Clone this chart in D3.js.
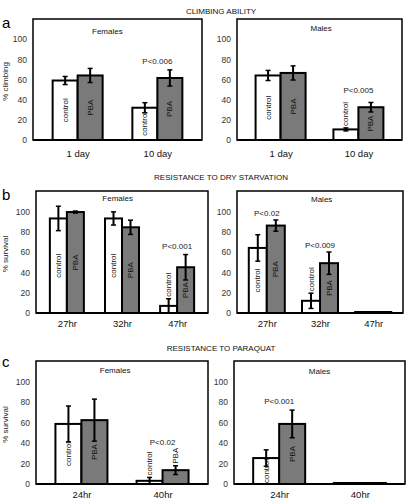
<!DOCTYPE html>
<html><head><meta charset="utf-8">
<script src="https://cdn.jsdelivr.net/npm/d3@7"></script>
<style>
html,body{margin:0;padding:0;background:#fff;}
svg{display:block;font-family:"Liberation Sans",Arial,Helvetica,sans-serif;}
</style></head>
<body><svg id="chart" width="410" height="501"></svg>
<script>
// ---------- DATA ----------
const sectionTitles = ["CLIMBING ABILITY", "RESISTANCE TO DRY STARVATION", "RESISTANCE TO PARAQUAT"];
const yTitles = ["% climbing", "% survival", "% survival"];
const panelLetters = ["a", "b", "c"];
const yTicks = [0, 20, 40, 60, 80, 100];
const seriesNames = ["control", "PBA"];

const climbCategories = ["1 day", "10 day"];
const climbFemaleControl = [59, 32];
const climbFemaleControlErr = [4, 5];
const climbFemalePBA = [64, 61.5];
const climbFemalePBAErr = [7, 8];
const climbMaleControl = [64, 10.5];
const climbMaleControlErr = [5, 1.5];
const climbMalePBA = [66.5, 32.5];
const climbMalePBAErr = [7, 4.7];

const starvCategories = ["27hr", "32hr", "47hr"];
const starvFemaleControl = [93, 93, 7];
const starvFemaleControlErr = [12, 6.5, 7];
const starvFemalePBA = [99.3, 84.3, 45];
const starvFemalePBAErr = [1, 7, 12.5];
const starvMaleControl = [64, 12, 0];
const starvMaleControlErr = [13, 7.5, 0];
const starvMalePBA = [86, 49, 0];
const starvMalePBAErr = [5.5, 11, 0];

const paraCategories = ["24hr", "40hr"];
const paraFemaleControl = [58.6, 3.1];
const paraFemaleControlErr = [17.5, 3.3];
const paraFemalePBA = [62.3, 13.5];
const paraFemalePBAErr = [20.5, 4.3];
const paraMaleControl = [25.3, 0];
const paraMaleControlErr = [8, 0];
const paraMalePBA = [58.6, 0];
const paraMalePBAErr = [13.5, 0];

// p-value annotations: [category, text, level (data units)]
const climbFemaleP = [["10 day", "P<0.006", 78]];
const climbMaleP = [["10 day", "P<0.005", 49.5]];
const starvFemaleP = [["47hr", "P<0.001", 65.5]];
const starvMaleP = [["27hr", "P<0.02", 98], ["32hr", "P<0.009", 67]];
const paraFemaleP = [["40hr", "P<0.02", 40.5]];
const paraMaleP = [["24hr", "P<0.001", 81]];

// ---------- LAYOUT ----------
const panels = [
  {row:0, sex:"Females", cats:climbCategories, c:climbFemaleControl, ce:climbFemaleControlErr, p:climbFemalePBA, pe:climbFemalePBAErr, ann:climbFemaleP,
   x0:33, x1:202, y0:19, y1:140, bw:25, sexFx:0.44, sexDy:14.5, left:true},
  {row:0, sex:"Males", cats:climbCategories, c:climbMaleControl, ce:climbMaleControlErr, p:climbMalePBA, pe:climbMalePBAErr, ann:climbMaleP,
   x0:237, x1:402, y0:19, y1:140, bw:25, sexFx:0.51, sexDy:12, left:false},
  {row:1, sex:"Females", cats:starvCategories, c:starvFemaleControl, ce:starvFemaleControlErr, p:starvFemalePBA, pe:starvFemalePBAErr, ann:starvFemaleP,
   x0:36, x1:208, y0:191, y1:313, bw:17, sexFx:0.475, sexDy:9.5, left:true},
  {row:1, sex:"Males", cats:starvCategories, c:starvMaleControl, ce:starvMaleControlErr, p:starvMalePBA, pe:starvMalePBAErr, ann:starvMaleP,
   x0:237, x1:403, y0:191, y1:313, bw:18, sexFx:0.51, sexDy:11, left:false},
  {row:2, sex:"Females", cats:paraCategories, c:paraFemaleControl, ce:paraFemaleControlErr, p:paraFemalePBA, pe:paraFemalePBAErr, ann:paraFemaleP,
   x0:36, x1:208, y0:361, y1:484, bw:26, sexFx:0.46, sexDy:11.5, left:true},
  {row:2, sex:"Males", cats:paraCategories, c:paraMaleControl, ce:paraMaleControlErr, p:paraMalePBA, pe:paraMalePBAErr, ann:paraMaleP,
   x0:234, x1:405, y0:361, y1:484, bw:26, sexFx:0.5, sexDy:12.5, left:false}
];
const titleY = [14, 180, 350.5];
const letterY = [28, 200, 367];
const xLabelPad = [10, 7, 7];

const svg = d3.select("#chart");
const FILL_PBA = "#7a7a7a";

// section titles and letters
sectionTitles.forEach((t, i) => {
  svg.append("text").attr("x", 221).attr("y", titleY[i]).attr("text-anchor", "middle")
    .attr("font-size", 8).attr("fill", "#111").text(t);
  svg.append("text").attr("x", 2).attr("y", letterY[i]).attr("font-size", 15).attr("fill", "#000").text(panelLetters[i]);
});

panels.forEach(P => {
  const g = svg.append("g");
  const y = d3.scaleLinear().domain([0, 120]).range([P.y1, P.y0]);
  const x = d3.scalePoint().domain(P.cats).range([P.x0, P.x1]).padding(0.56);

  // y axis labels
  const ya = g.append("g").attr("transform", `translate(${P.x0},0)`)
    .call(d3.axisLeft(y).tickValues(yTicks).tickSize(0).tickPadding(6));
  ya.select(".domain").remove();
  ya.selectAll("text").attr("font-size", 8.5).attr("fill", "#333").attr("font-family", null);

  // x axis labels
  const xa = g.append("g").attr("transform", `translate(0,${P.y1})`)
    .call(d3.axisBottom(x).tickSize(0).tickPadding(xLabelPad[P.row]));
  xa.select(".domain").remove();
  xa.selectAll("text").attr("font-size", 9.5).attr("fill", "#111").attr("font-family", null);

  // y title
  if (P.left) {
    g.append("text").attr("transform", `translate(8,${(P.y0 + P.y1) / 2 + 2}) rotate(-90)`)
      .attr("text-anchor", "middle").attr("font-size", 8).attr("fill", "#222").text(yTitles[P.row]);
  }

  // bars
  const rows = [];
  P.cats.forEach((cat, i) => {
    rows.push({cat, s: 0, v: P.c[i], e: P.ce[i]});
    rows.push({cat, s: 1, v: P.p[i], e: P.pe[i]});
  });
  const bx = d => x(d.cat) + (d.s === 0 ? -P.bw : 0);
  g.selectAll("rect.bar").data(rows).join("rect").attr("class", "bar")
    .attr("x", bx).attr("width", P.bw)
    .attr("y", d => Math.min(y(d.v), P.y1 - 1))
    .attr("height", d => Math.max(P.y1 - y(d.v), 1))
    .attr("fill", d => d.s === 0 ? "#fff" : FILL_PBA)
    .attr("stroke", "#000").attr("stroke-width", 2);

  // error bars
  const eb = rows.filter(d => d.v > 0 && d.e > 0);
  const cx = d => bx(d) + P.bw / 2;
  g.selectAll("line.err").data(eb).join("line").attr("class", "err")
    .attr("x1", cx).attr("x2", cx)
    .attr("y1", d => y(d.v + d.e)).attr("y2", d => y(Math.max(d.v - d.e, 0)))
    .attr("stroke", "#000").attr("stroke-width", 2);
  g.selectAll("line.capT").data(eb).join("line").attr("class", "capT")
    .attr("x1", d => cx(d) - 2.5).attr("x2", d => cx(d) + 2.5)
    .attr("y1", d => y(d.v + d.e)).attr("y2", d => y(d.v + d.e))
    .attr("stroke", "#000").attr("stroke-width", 1.5);
  g.selectAll("line.capB").data(eb.filter(d => d.v - d.e > 0)).join("line").attr("class", "capB")
    .attr("x1", d => cx(d) - 2.5).attr("x2", d => cx(d) + 2.5)
    .attr("y1", d => y(d.v - d.e)).attr("y2", d => y(d.v - d.e))
    .attr("stroke", "#000").attr("stroke-width", 1.5);

  // series labels inside/above bars
  rows.filter(d => d.v > 0).forEach(d => {
    const t = g.append("text").attr("font-size", 8).attr("fill", "#111")
      .attr("text-anchor", "middle").attr("dominant-baseline", "central").text(seriesNames[d.s]);
    const len = t.node().getComputedTextLength();
    const top = y(d.v), h = P.y1 - top;
    const above = Math.min(top, y(d.v + d.e)) - 2;
    const cy = h >= len ? (top + P.y1) / 2 : above - len / 2;
    t.attr("transform", `translate(${cx(d)},${cy}) rotate(-90)`);
  });

  // p annotations
  P.ann.forEach(a => {
    g.append("text").attr("x", x(a[0])).attr("y", y(a[2]) + 3).attr("text-anchor", "middle")
      .attr("font-size", 8).attr("fill", "#222").text(a[1]);
  });

  // sex label
  g.append("text").attr("x", P.x0 + (P.x1 - P.x0) * P.sexFx).attr("y", P.y0 + P.sexDy)
    .attr("text-anchor", "middle").attr("font-size", 8).attr("fill", "#111").text(P.sex);

  // frame
  g.append("rect").attr("x", P.x0).attr("y", P.y0).attr("width", P.x1 - P.x0).attr("height", P.y1 - P.y0)
    .attr("fill", "none").attr("stroke", "#000").attr("stroke-width", 1.5);
  g.append("line").attr("x1", P.x0).attr("x2", P.x1).attr("y1", P.y1).attr("y2", P.y1)
    .attr("stroke", "#000").attr("stroke-width", 2);
});
</script></body></html>
